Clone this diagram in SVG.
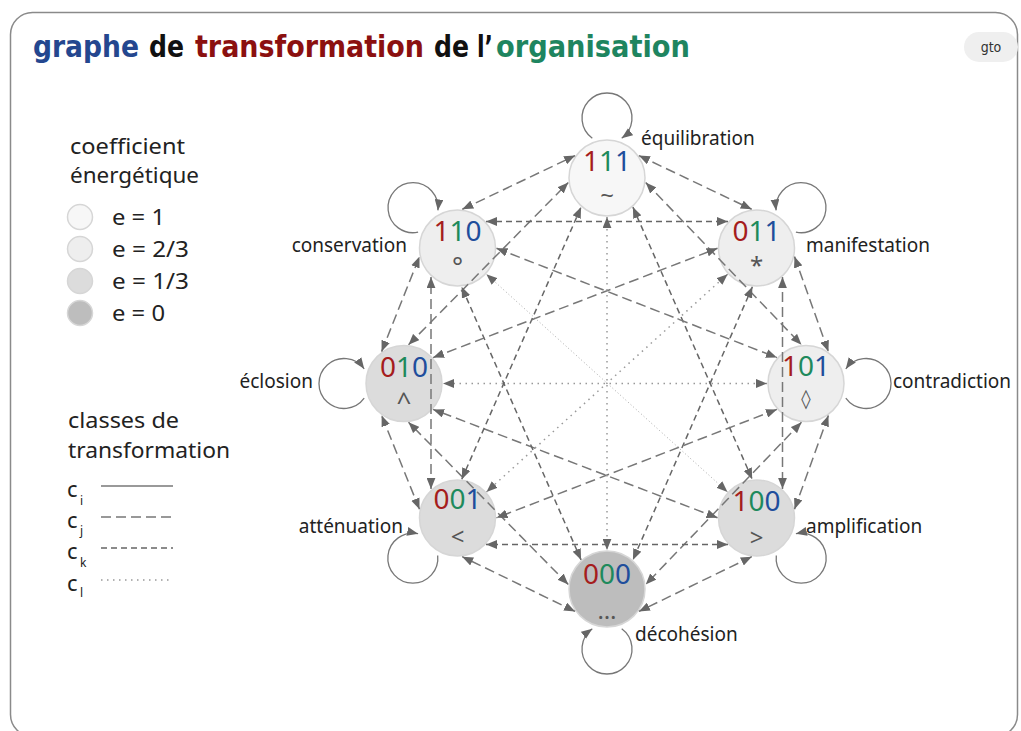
<svg xmlns="http://www.w3.org/2000/svg" width="1021" height="731" viewBox="0 0 1021 731">
<defs>
<marker id="ah" viewBox="0 0 10 8" refX="10" refY="4" markerWidth="11" markerHeight="9" markerUnits="userSpaceOnUse" orient="auto-start-reverse"><path d="M0,0 L10,4 L0,8 z" fill="#666"/></marker>
<style>
.ttl{font-family:"DejaVu Sans Condensed","DejaVu Sans",sans-serif;font-stretch:condensed;font-weight:bold;font-size:31px}
.lbl{font-family:"Noto Sans","Liberation Sans",sans-serif;font-size:19px;fill:#222}
.leg{font-family:"Noto Sans","Liberation Sans",sans-serif;font-size:22px;fill:#222}
.legv{font-family:"Noto Sans","Liberation Sans",sans-serif;font-size:21px;fill:#222}
.sub{font-family:"Noto Sans","Liberation Sans",sans-serif;font-size:12px;fill:#222}
.bits{font-family:"Noto Sans","Liberation Sans",sans-serif;font-size:28px;text-anchor:middle}
.sym{font-family:"Noto Sans","DejaVu Sans",sans-serif;font-size:24px;fill:#555;text-anchor:middle}
.r{fill:#a51d1d}.g{fill:#1e8a5c}.b{fill:#1f4e9c}
.node{stroke:#d6d6d6;stroke-width:1.5}
.e1{fill:#f7f7f7}.e2{fill:#eeeeee}.e3{fill:#dcdcdc}.e0{fill:#bdbdbd}
#connectors line{fill:none;marker-start:url(#ah);marker-end:url(#ah)}
.cj{stroke:#777;stroke-width:1.5;stroke-dasharray:10 5}
.ck{stroke:#666;stroke-width:1.5;stroke-dasharray:6 4}
.cl{stroke:#999;stroke-width:1.5;stroke-dasharray:1.5 4.5}
.cl2{stroke:#aaa;stroke-width:1;stroke-dasharray:1 2.5}
.ci{stroke:#777;stroke-width:1.3;fill:none}
.loop{fill:none;stroke:#777;stroke-width:1.3;marker-end:url(#ah)}
</style>
</defs>
<rect x="0" y="0" width="1021" height="731" fill="#ffffff"/>
<rect x="10.5" y="12.5" width="1007" height="724" rx="22" fill="none" stroke="#8a8a8a" stroke-width="1.5"/>

<g id="title">
<text class="ttl" x="33" y="57" fill="#24478f" textLength="106" lengthAdjust="spacingAndGlyphs">graphe</text>
<text class="ttl" x="149" y="57" fill="#111" textLength="35" lengthAdjust="spacingAndGlyphs">de</text>
<text class="ttl" x="195" y="57" fill="#8b1010" textLength="229" lengthAdjust="spacingAndGlyphs">transformation</text>
<text class="ttl" x="434" y="57" fill="#111" textLength="35" lengthAdjust="spacingAndGlyphs">de</text>
<text class="ttl" x="477" y="57" fill="#111" textLength="16" lengthAdjust="spacingAndGlyphs">l’</text>
<text class="ttl" x="496" y="57" fill="#1e8560" textLength="194" lengthAdjust="spacingAndGlyphs">organisation</text>
</g>
<g id="badge">
<rect x="964" y="32" width="54" height="30" rx="15" fill="#efefef"/>
<text x="991" y="52" font-family="'DejaVu Sans Condensed','DejaVu Sans',sans-serif" font-size="14" fill="#333" text-anchor="middle">gto</text>
</g>

<g id="legend-energy">
<text class="leg" x="70" y="154" textLength="115" lengthAdjust="spacingAndGlyphs">coefficient</text>
<text class="leg" x="70" y="183" textLength="129" lengthAdjust="spacingAndGlyphs">énergétique</text>
<circle class="node e1" cx="80" cy="217" r="12.5"/>
<circle class="node e2" cx="80" cy="249" r="12.5"/>
<circle class="node e3" cx="80" cy="281" r="12.5"/>
<circle class="node e0" cx="80" cy="313" r="12.5"/>
<text class="legv" x="112" y="225" textLength="53" lengthAdjust="spacingAndGlyphs">e = 1</text>
<text class="legv" x="112" y="257" textLength="77" lengthAdjust="spacingAndGlyphs">e = 2/3</text>
<text class="legv" x="112" y="289" textLength="77" lengthAdjust="spacingAndGlyphs">e = 1/3</text>
<text class="legv" x="112" y="321" textLength="53" lengthAdjust="spacingAndGlyphs">e = 0</text>
</g>

<g id="legend-classes">
<text class="leg" x="68" y="428" textLength="111" lengthAdjust="spacingAndGlyphs">classes de</text>
<text class="leg" x="68" y="458" textLength="162" lengthAdjust="spacingAndGlyphs">transformation</text>
<text class="leg" x="67" y="497">c</text><text class="sub" x="80" y="505">i</text>
<text class="leg" x="67" y="528">c</text><text class="sub" x="80" y="535">j</text>
<text class="leg" x="67" y="559">c</text><text class="sub" x="80" y="567">k</text>
<text class="leg" x="67" y="591">c</text><text class="sub" x="80" y="597">l</text>
<line class="ci" x1="101" y1="486" x2="173" y2="486"/>
<line class="cj" x1="101" y1="517" x2="173" y2="517" stroke="#999"/>
<line class="ck" x1="101" y1="548" x2="173" y2="548"/>
<line class="cl" x1="101" y1="580" x2="173" y2="580" stroke="#bbb"/>
</g>

<g id="n111">
<circle class="node e1" cx="607" cy="178" r="38"/>
<text class="bits" x="607" y="171"><tspan class="r">1</tspan><tspan class="g">1</tspan><tspan class="b">1</tspan></text>
<text class="sym" x="607" y="204">~</text>
<text class="lbl" x="641" y="145">équilibration</text>
</g>
<g id="n011">
<circle class="node e2" cx="756.5" cy="248" r="38"/>
<text class="bits" x="756.5" y="241"><tspan class="r">0</tspan><tspan class="g">1</tspan><tspan class="b">1</tspan></text>
<text class="sym" x="756.5" y="274">*</text>
<text class="lbl" x="806" y="252">manifestation</text>
</g>
<g id="n101">
<circle class="node e2" cx="806" cy="383.5" r="38"/>
<text class="bits" x="806" y="376"><tspan class="r">1</tspan><tspan class="g">0</tspan><tspan class="b">1</tspan></text>
<text class="sym" x="806" y="405" style="font-size:19px">◊</text>
<text class="lbl" x="893" y="388">contradiction</text>
</g>
<g id="n100">
<circle class="node e3" cx="756.5" cy="518" r="38"/>
<text class="bits" x="756.5" y="511"><tspan class="r">1</tspan><tspan class="g">0</tspan><tspan class="b">0</tspan></text>
<text class="sym" x="756.5" y="546">&gt;</text>
<text class="lbl" x="806" y="533">amplification</text>
</g>
<g id="n000">
<circle class="node e0" cx="607" cy="589" r="38"/>
<text class="bits" x="607" y="584"><tspan class="r">0</tspan><tspan class="g">0</tspan><tspan class="b">0</tspan></text>
<text class="sym" x="607" y="619">…</text>
<text class="lbl" x="635" y="641">décohésion</text>
</g>
<g id="n001">
<circle class="node e3" cx="457.5" cy="518" r="38"/>
<text class="bits" x="457.5" y="509"><tspan class="r">0</tspan><tspan class="g">0</tspan><tspan class="b">1</tspan></text>
<text class="sym" x="457.5" y="545">&lt;</text>
<text class="lbl" x="403" y="533" text-anchor="end">atténuation</text>
</g>
<g id="n010">
<circle class="node e3" cx="404" cy="383.5" r="38"/>
<text class="bits" x="404" y="377"><tspan class="r">0</tspan><tspan class="g">1</tspan><tspan class="b">0</tspan></text>
<text class="sym" x="404" y="411" style="font-size:26px">^</text>
<text class="lbl" x="313" y="388" text-anchor="end">éclosion</text>
</g>
<g id="n110">
<circle class="node e2" cx="457.5" cy="248" r="38"/>
<text class="bits" x="457.5" y="241"><tspan class="r">1</tspan><tspan class="g">1</tspan><tspan class="b">0</tspan></text>
<text class="sym" x="457.5" y="276" style="font-size:26px">°</text>
<text class="lbl" x="407" y="252" text-anchor="end">conservation</text>
</g>

<g id="connectors">
<line class="cj" x1="638.9" y1="155.6" x2="751.7" y2="209.3"/>
<line class="cj" x1="794.5" y1="256.6" x2="828.4" y2="351.6"/>
<line class="cj" x1="828.4" y1="415.4" x2="794.5" y2="509.3"/>
<line class="cj" x1="751.8" y1="556.7" x2="638.9" y2="611.4"/>
<line class="cj" x1="575.1" y1="611.4" x2="462.2" y2="556.7"/>
<line class="cj" x1="419.5" y1="509.3" x2="381.6" y2="415.4"/>
<line class="cj" x1="381.6" y1="351.6" x2="419.5" y2="256.6"/>
<line class="cj" x1="462.3" y1="209.3" x2="575.1" y2="155.6"/>
<line class="cj" x1="645.7" y1="182.5" x2="801.5" y2="344.8"/>
<line class="cj" x1="782.5" y1="277" x2="782.5" y2="489"/>
<line class="cj" x1="801.5" y1="422.2" x2="645.7" y2="584.5"/>
<line class="ck" x1="728" y1="544.5" x2="486" y2="544.5"/>
<line class="cj" x1="568.3" y1="584.5" x2="408.5" y2="422.2"/>
<line class="cj" x1="431" y1="489" x2="431" y2="277"/>
<line class="cj" x1="408.5" y1="344.8" x2="568.3" y2="182.5"/>
<line class="ck" x1="486" y1="221.5" x2="728" y2="221.5"/>
<line class="ck" x1="632.9" y1="207.1" x2="752.2" y2="479.2"/>
<line class="ck" x1="752.4" y1="286.8" x2="632.9" y2="559.9"/>
<line class="cj" x1="776.9" y1="409.4" x2="496.5" y2="517.8"/>
<line class="cj" x1="717.5" y1="517.8" x2="433.1" y2="409.4"/>
<line class="ck" x1="581.1" y1="559.9" x2="461.6" y2="286.8"/>
<line class="ck" x1="461.8" y1="479.2" x2="581.1" y2="207.1"/>
<line class="cj" x1="433.1" y1="357.6" x2="717.5" y2="248.3"/>
<line class="cj" x1="496.5" y1="248.3" x2="776.9" y2="357.6"/>
<line class="cl" x1="607" y1="217" x2="607" y2="550"/>
<line class="cl" x1="727.6" y1="274.2" x2="486.5" y2="491.9"/>
<line class="cl" x1="767" y1="383.5" x2="443" y2="383.5"/>
<line class="cl2" x1="727.5" y1="491.9" x2="486.4" y2="274.2"/>
<path class="loop" d="M592.3,138.2 A25,25 0 1,1 621.7,138.2"/>
<path class="loop" d="M795.9,232.2 A25,25 0 1,0 776.1,210.4"/>
<path class="loop" d="M845.8,398.2 A25,25 0 1,0 845.8,368.8"/>
<path class="loop" d="M776.3,555.5 A25,25 0 1,0 795.9,533.7"/>
<path class="loop" d="M621.7,628.8 A25,25 0 1,1 592.3,628.8"/>
<path class="loop" d="M437.7,555.5 A25,25 0 1,1 418.1,533.7"/>
<path class="loop" d="M364.2,398.2 A25,25 0 1,1 364.2,368.8"/>
<path class="loop" d="M418.1,232.2 A25,25 0 1,1 437.9,210.4"/>
</g>
</svg>
